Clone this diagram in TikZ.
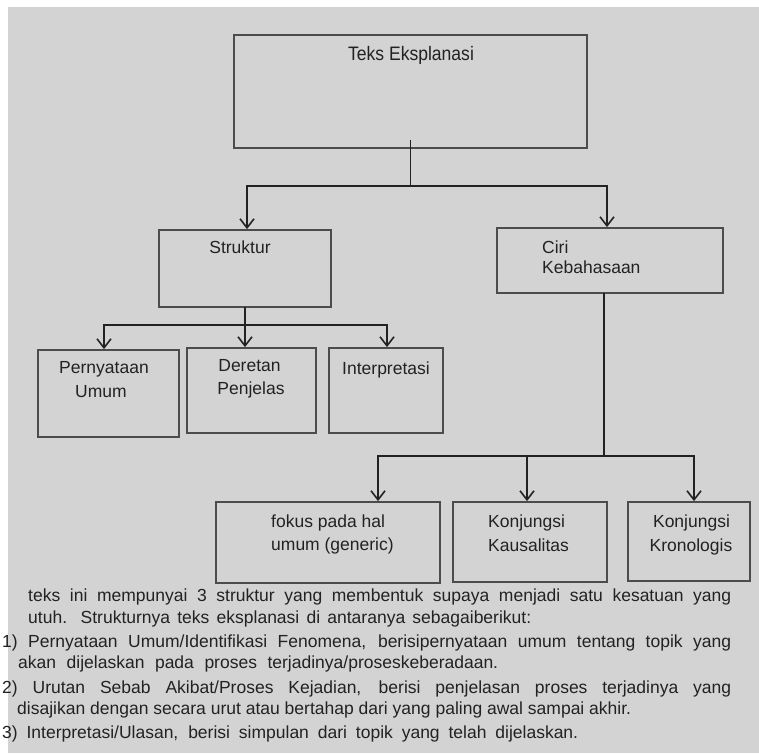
\documentclass[tikz,border=0pt]{standalone}
\usepackage{fontspec}
\setmainfont{Liberation Sans}
\newfontfamily\condfont[FakeStretch=0.9]{Liberation Sans}
\usetikzlibrary{arrows.meta}
\definecolor{bg}{HTML}{D3D3D3}
\definecolor{ink}{HTML}{222222}
\definecolor{edge}{HTML}{4C4C4C}
\begin{document}
\begin{tikzpicture}[x=1pt,y=-1pt,
  box/.style={draw=edge, line width=1.8pt, inner sep=0pt},
  lbl/.style={anchor=base, inner sep=0pt, text=ink, font=\fontsize{17.5}{21}\selectfont},
  lblw/.style={lbl, anchor=base west},
  conn/.style={draw=ink, line width=1.6pt, line cap=rect},
  arr/.style={draw=ink, line width=1.6pt, -{Straight Barb[length=9pt,width=14pt,line width=1.6pt]}},
  para/.style={anchor=base west, inner sep=0pt, text=ink, font=\fontsize{17.5}{21}\selectfont}]
\useasboundingbox (0,0) rectangle (759,753);
\fill[white] (0,0) rectangle (759,753);
\fill[bg] (8,7) rectangle (759,753);
% boxes
\node[box, minimum width=353pt, minimum height=113pt] (top) at (410.5,91.5) {};
\node[box, minimum width=172pt, minimum height=77pt] (struk) at (245,268.5) {};
\node[box, minimum width=226pt, minimum height=65pt] (ciri) at (610,260.5) {};
\node[box, minimum width=141pt, minimum height=87pt] (pern) at (108.5,393.5) {};
\node[box, minimum width=129pt, minimum height=85pt] (der) at (251.5,390.5) {};
\node[box, minimum width=114pt, minimum height=85pt] (intp) at (386,390.5) {};
\node[box, minimum width=224pt, minimum height=81pt] (fokus) at (328,542.5) {};
\node[box, minimum width=154pt, minimum height=80pt] (kaus) at (530,542) {};
\node[box, minimum width=122pt, minimum height=79pt] (kron) at (689,541.5) {};
% labels
\node[lbl, font=\condfont\fontsize{19.5}{23}\selectfont] (tT) at (411,60) {Teks Eksplanasi};
\node[lbl] (tS) at (240,253) {Struktur};
\node[lblw] (tC1) at (542,253) {Ciri};
\node[lblw] (tC2) at (542,273) {Kebahasaan};
\node[lbl] (tP1) at (104,373) {Pernyataan};
\node[lbl] (tP2) at (101,397) {Umum};
\node[lbl] (tD1) at (249.5,371) {Deretan};
\node[lbl] (tD2) at (251,394) {Penjelas};
\node[lbl] (tI) at (386,374) {Interpretasi};
\node[lblw] (tF1) at (271,527) {fokus pada hal};
\node[lblw] (tF2) at (271,550) {umum (generic)};
\node[lblw] (tK1) at (488,527) {Konjungsi};
\node[lblw] (tK2) at (488,551) {Kausalitas};
\node[lbl] (tR1) at (691.5,527) {Konjungsi};
\node[lbl] (tR2) at (691,551) {Kronologis};
% connectors: top level
\coordinate (t0) at ([yshift=8pt]top.south);
\coordinate (a1) at (247,186);
\coordinate (a2) at (607,186);
\draw[conn] (t0) -- (t0 |- a1);
\draw[conn] (a1) -- (a2);
\draw[arr] (a1) -- (a1 |- struk.north);
\draw[arr] (a2) -- (a2 |- ciri.north);
% Struktur children
\coordinate (b1) at (104,325);
\coordinate (b2) at (245,325);
\coordinate (b3) at (387,325);
\draw[conn] (struk.south) -- (b2);
\draw[conn] (b1) -- (b3);
\draw[arr] (b1) -- (b1 |- pern.north);
\draw[arr] (b2) -- (b2 |- der.north);
\draw[arr] (b3) -- (b3 |- intp.north);
% Ciri children
\coordinate (j3) at (604,456);
\coordinate (c1) at (378,456);
\coordinate (c2) at (527,456);
\coordinate (c3) at (694,456);
\draw[conn] (j3 |- ciri.south) -- (j3);
\draw[conn] (c1) -- (c3);
\draw[arr] (c1) -- (c1 |- fokus.north);
\draw[arr] (c2) -- (c2 |- kaus.north);
\draw[arr] (c3) -- (c3 |- kron.north);
% paragraph
\node[para] (p1) at (28,601) {\makebox[703pt][s]{teks ini mempunyai 3 struktur yang membentuk supaya menjadi satu kesatuan yang}};
\node[para] (p2) at (28,623) {\makebox[503pt][s]{utuh. Strukturnya teks eksplanasi di antaranya sebagaiberikut:}};
\node[para] (p3) at (2,647) {\makebox[729pt][s]{1) Pernyataan Umum/Identifikasi Fenomena, berisipernyataan umum tentang topik yang}};
\node[para] (p4) at (18,668) {\makebox[480pt][s]{akan dijelaskan pada proses terjadinya/proseskeberadaan.}};
\node[para] (p5) at (2,693) {\makebox[729pt][s]{2) Urutan Sebab Akibat/Proses Kejadian, berisi penjelasan proses terjadinya yang}};
\node[para] (p6) at (17,714) {\makebox[614pt][s]{disajikan dengan secara urut atau bertahap dari yang paling awal sampai akhir.}};
\node[para] (p7) at (2,738) {\makebox[576pt][s]{3) Interpretasi/Ulasan, berisi simpulan dari topik yang telah dijelaskan.}};
\end{tikzpicture}
\end{document}
